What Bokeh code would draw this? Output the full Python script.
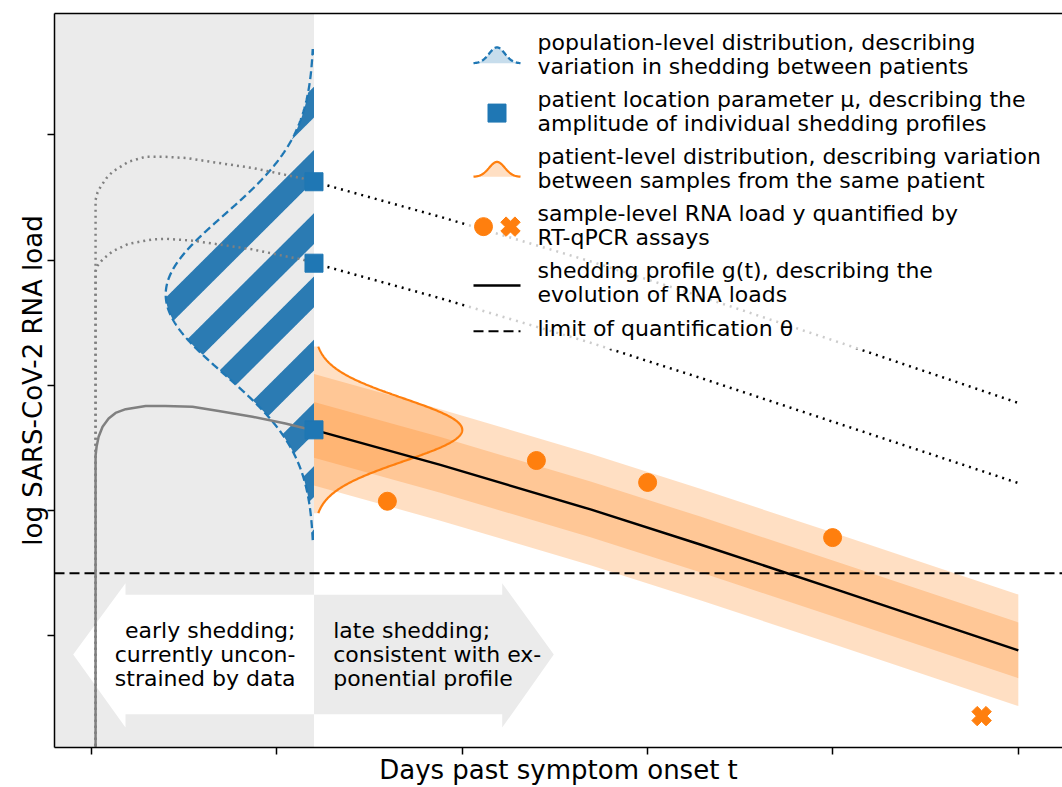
import numpy as np
from bokeh.plotting import figure
from bokeh.models import (Range1d, FixedTicker, LinearAxis, BoxAnnotation, Span,
                          CustomLabelingPolicy)
from bokeh.core.properties import value
from bokeh.embed import file_html
from bokeh.resources import INLINE

# ---------------- data ----------------
x_ticks = [0, 5, 10, 15, 20, 25]
y_ticks = [2, 4, 6, 8, 10]
t_split = 6.0          # boundary early / late shedding (days)
loq = 3.0              # limit of quantification theta

late_days = [6.0, 9.41, 13.46, 16.42, 20.2, 25.0]
late_low = [5.29, 4.73, 4.02, 3.46, 2.72, 1.77]     # shedding profile g(t) of shown patient
late_mid = [7.95, 7.39, 6.68, 6.12, 5.38, 4.44]     # dotted profile, 2nd patient
late_high = [9.25, 8.69, 7.98, 7.42, 6.68, 5.72]    # dotted profile, 3rd patient
band_inner = 0.445
band_outer = 0.89

early_low_days = [0.108, 0.108, 0.135, 0.19, 0.297, 0.46, 0.647, 0.92, 1.46, 1.99, 2.72, 3.43, 4.34, 5.23, 5.72, 5.99]
early_low_vals = [-1.0, 4.88, 5.02, 5.18, 5.34, 5.47, 5.56, 5.62, 5.67, 5.67, 5.66, 5.59, 5.50, 5.39, 5.32, 5.29]
early_mid_days = [0.108, 0.108, 0.162, 0.297, 0.566, 0.998, 1.645, 1.996, 2.724, 3.426, 4.343, 5.233, 5.692, 5.989]
early_mid_vals = [-1.0, 7.82, 7.91, 8.01, 8.14, 8.26, 8.33, 8.34, 8.31, 8.25, 8.17, 8.06, 8.01, 7.95]
early_high_days = [0.108, 0.108, 0.162, 0.243, 0.405, 0.566, 0.998, 1.457, 1.915, 2.536, 3.426, 4.343, 5.233, 5.719, 5.989]
early_high_vals = [-1.0, 8.96, 9.08, 9.17, 9.31, 9.41, 9.57, 9.65, 9.65, 9.63, 9.55, 9.47, 9.36, 9.30, 9.25]

mu_days = [6.0, 6.0, 6.0]
mu_vals = [9.25, 7.95, 5.29]
sample_days = [7.98, 12.0, 15.0, 19.99]
sample_vals = [4.15, 4.80, 4.45, 3.57]
censored_days = [24.01]
censored_vals = [0.72]

pop_mean, pop_sd, pop_peak, pop_cut = 7.45, 1.27, 4.0, 3.92
pat_mean, pat_sd, pat_peak, pat_cut = 5.29, 0.5, 4.0, 1.33

legend_labels = [
    "population-level distribution, describing\nvariation in shedding between patients",
    "patient location parameter \u03bc, describing the\namplitude of individual shedding profiles",
    "patient-level distribution, describing variation\nbetween samples from the same patient",
    "sample-level RNA load y quantified by\nRT-qPCR assays",
    "shedding profile g(t), describing the\nevolution of RNA loads",
    "limit of quantification \u03b8",
]
early_text = "early shedding;\ncurrently uncon-\nstrained by data"
late_text = "late shedding;\nconsistent with ex-\nponential profile"

# ---------------- geometry ----------------
W, H = 1062, 787
FL, FT = 54, 13
FW, FH = W - FL, 737
PPD, PPU = 37.07, 62.9
X0 = -1.0
X1 = X0 + FW / PPD
Y1 = 11.936
Y0 = Y1 - FH / PPU

def dx(px):   # pixel -> days
    return X0 + (px - FL) / PPD

def dy(py):   # pixel -> value
    return Y1 - (py - FT) / PPU

BLUE = "#1f77b4"
ORANGE = "#ff7f0e"
FONT = value("DejaVu Sans")
LH = 0.96

p = figure(width=W, height=H, x_range=Range1d(X0, X1), y_range=Range1d(Y0, Y1),
           output_backend="svg", toolbar_location=None,
           min_border_left=FL, min_border_right=0, min_border_top=FT,
           min_border_bottom=H - FT - FH)
p.xgrid.visible = False
p.ygrid.visible = False
p.outline_line_color = None
p.background_fill_color = "white"
p.border_fill_color = "white"

no_labels = CustomLabelingPolicy(code="""
const keep = [];
for (const i of indices) keep.push(i);
for (const i of keep) indices.unset(i);
return indices;
""")

for ax, ticks in ((p.xaxis[0], x_ticks), (p.yaxis[0], y_ticks)):
    ax.ticker = FixedTicker(ticks=ticks)
    ax.major_tick_out = 7
    ax.major_tick_in = 0
    ax.minor_tick_out = 0
    ax.minor_tick_in = 0
    ax.major_tick_line_width = 1.5
    ax.axis_line_width = 1.5
    ax.major_label_text_font_size = "0px"
    ax.major_label_standoff = 0
    ax.major_label_policy = no_labels
    ax.axis_label_text_font = "DejaVu Sans"
    ax.axis_label_text_font_size = "26px"
    ax.axis_label_text_font_style = "normal"
    ax.axis_label_text_color = "black"
    ax.axis_label_standoff = 0

p.yaxis.axis_label = "log SARS-CoV-2 RNA load"
p.xaxis.axis_label = "Days past symptom onset t"

top_axis = LinearAxis(ticker=FixedTicker(ticks=[]), major_label_text_font_size="0px",
                      major_tick_out=0, major_tick_in=0, minor_tick_out=0, minor_tick_in=0,
                      major_label_standoff=0, axis_line_width=1.5)
p.add_layout(top_axis, "above")

# gray early region
p.add_layout(BoxAnnotation(right=t_split, fill_color="#ebebeb", fill_alpha=1.0,
                           line_color=None, level="underlay"))

# arrows
ax_l, ax_hb, ax_r, ax_hr, ax_tip = dx(72.7), dx(125), t_split, dx(501.7), dx(553.3)
ay_top, ay_bt, ay_c, ay_bb, ay_bot = dy(585), dy(596.7), dy(656.7), dy(716.7), dy(730)
p.patch([ax_l, ax_hb, ax_hb, ax_r, ax_r, ax_hb, ax_hb],
        [ay_c, ay_top, ay_bt, ay_bt, ay_bb, ay_bb, ay_bot],
        fill_color="white", line_color=None)
p.patch([ax_r, ax_hr, ax_hr, ax_tip, ax_hr, ax_hr, ax_r],
        [ay_bt, ay_bt, ay_top, ay_c, ay_bot, ay_bb, ay_bb],
        fill_color="#ebebeb", line_color=None)
p.text(x=[dx(295)], y=[ay_c], text=[early_text], text_font=FONT, text_font_size=value("22px"),
       text_align="right", text_baseline="middle", text_color="black", text_line_height=LH)
p.text(x=[dx(332.7)], y=[ay_c], text=[late_text], text_font=FONT, text_font_size=value("22px"),
       text_align="left", text_baseline="middle", text_color="black", text_line_height=LH)

# bands around the shedding profile
ld = np.array(late_days)
ll = np.array(late_low)
p.varea(x=ld, y1=ll - band_outer, y2=ll + band_outer, fill_color=ORANGE, fill_alpha=0.25)
p.varea(x=ld, y1=ll - band_inner, y2=ll + band_inner, fill_color=ORANGE, fill_alpha=0.25)

# patient-level distribution
yy2 = np.linspace(pat_mean - pat_cut, pat_mean + pat_cut, 300)
ww2 = pat_peak * np.exp(-0.5 * ((yy2 - pat_mean) / pat_sd) ** 2)
p.harea(x1=np.full_like(yy2, t_split), x2=t_split + ww2, y=yy2, fill_color=ORANGE, fill_alpha=0.25)
p.line(t_split + ww2, yy2, line_color=ORANGE, line_width=2.2)

# population-level distribution (hatched)
yy = np.linspace(pop_mean - pop_cut, pop_mean + pop_cut, 1200)
ww = pop_peak * np.exp(-0.5 * ((yy - pop_mean) / pop_sd) ** 2)
left = t_split - ww
S_off = FL - PPD * X0 + FT + PPU * Y1
PERIOD, THICK, PHASE = 63.5, 31.0, 400.0

def d_for_S(S, v):
    return (S - S_off + PPU * v) / PPD

s_all = np.concatenate([S_off + PPD * left - PPU * yy, S_off + PPD * t_split - PPU * yy])
kmin = int(np.floor((s_all.min() - PHASE) / PERIOD)) - 1
kmax = int(np.ceil((s_all.max() - PHASE) / PERIOD)) + 1
sxs, sys_ = [], []
for k in range(kmin, kmax + 1):
    Sa = PHASE + k * PERIOD
    lo = np.maximum(left, d_for_S(Sa, yy))
    hi = np.minimum(t_split, d_for_S(Sa + THICK, yy))
    idx = np.flatnonzero(lo < hi)
    if idx.size == 0:
        continue
    breaks = np.flatnonzero(np.diff(idx) > 1)
    starts = np.concatenate([[0], breaks + 1])
    ends = np.concatenate([breaks, [idx.size - 1]])
    for s0, e0 in zip(starts, ends):
        seg = idx[s0:e0 + 1]
        if seg.size < 2:
            continue
        sxs.append(list(lo[seg]) + list(hi[seg][::-1]))
        sys_.append(list(yy[seg]) + list(yy[seg][::-1]))
p.patches(sxs, sys_, fill_color="#2b7bb3", line_color=None)
p.line(left, yy, line_color=BLUE, line_width=2.3, line_dash="8 4")

# early (unconstrained) profiles
p.line(early_low_days, early_low_vals, line_color="gray", line_width=2.5)
p.line(early_mid_days, early_mid_vals, line_color="gray", line_width=2.5, line_dash="2 4")
p.line(early_high_days, early_high_vals, line_color="gray", line_width=2.5, line_dash="2 4")

# late profiles
p.line(late_days, late_low, line_color="black", line_width=2.5)
p.line(late_days, late_mid, line_color="black", line_width=2.5, line_dash="2 5")
p.line(late_days, late_high, line_color="black", line_width=2.5, line_dash="2 5")

# limit of quantification
p.add_layout(Span(location=loq, dimension="width", line_color="black", line_width=2, line_dash="10 5"))

# legend background
p.quad(left=[dx(465)], right=[X1 + 1], bottom=[dy(350)], top=[dy(22)],
       fill_color="white", fill_alpha=0.8, line_color=None)

# markers
p.scatter(mu_days, mu_vals, marker="square", size=18, fill_color=BLUE, line_color=BLUE)
p.scatter(sample_days, sample_vals, marker="circle", size=18, fill_color=ORANGE, line_color=ORANGE)
p.scatter(censored_days, censored_vals, marker="plus", angle=np.pi / 4, size=20,
          fill_color=ORANGE, line_color=ORANGE)

# legend handles
hx = np.linspace(dx(473), dx(520), 60)
hc = (dx(473) + dx(520)) / 2
hs = (dx(520) - dx(473)) / 6
shape = np.exp(-0.5 * ((hx - hc) / hs) ** 2)
b1, t1 = dy(63), dy(47)
p.varea(x=hx, y1=np.full_like(hx, b1), y2=b1 + (t1 - b1) * shape, fill_color=BLUE, fill_alpha=0.25)
p.line(hx, b1 + (t1 - b1) * shape, line_color=BLUE, line_width=2.3, line_dash="6 3")
p.scatter([dx(496.5)], [dy(113)], marker="square", size=18, fill_color=BLUE, line_color=BLUE)
b3, t3 = dy(177), dy(162)
p.varea(x=hx, y1=np.full_like(hx, b3), y2=b3 + (t3 - b3) * shape, fill_color=ORANGE, fill_alpha=0.25)
p.line(hx, b3 + (t3 - b3) * shape, line_color=ORANGE, line_width=2.2)
p.scatter([dx(483)], [dy(227)], marker="circle", size=18, fill_color=ORANGE, line_color=ORANGE)
p.scatter([dx(510)], [dy(227)], marker="plus", angle=np.pi / 4, size=20, fill_color=ORANGE, line_color=ORANGE)
p.line([dx(473), dx(520)], [dy(286), dy(286)], line_color="black", line_width=2.5)
p.line([dx(473), dx(520)], [dy(332), dy(332)], line_color="black", line_width=2, line_dash="10 5")

leg_y = [dy(54.5), dy(111), dy(168.5), dy(225.5), dy(283.5), dy(329.5)]
p.text(x=[dx(537)] * 6, y=leg_y, text=legend_labels, text_font=FONT, text_font_size=value("22px"),
       text_align="left", text_baseline="middle", text_color="black", text_line_height=LH)

open("out.html", "w").write(file_html(p, INLINE))
